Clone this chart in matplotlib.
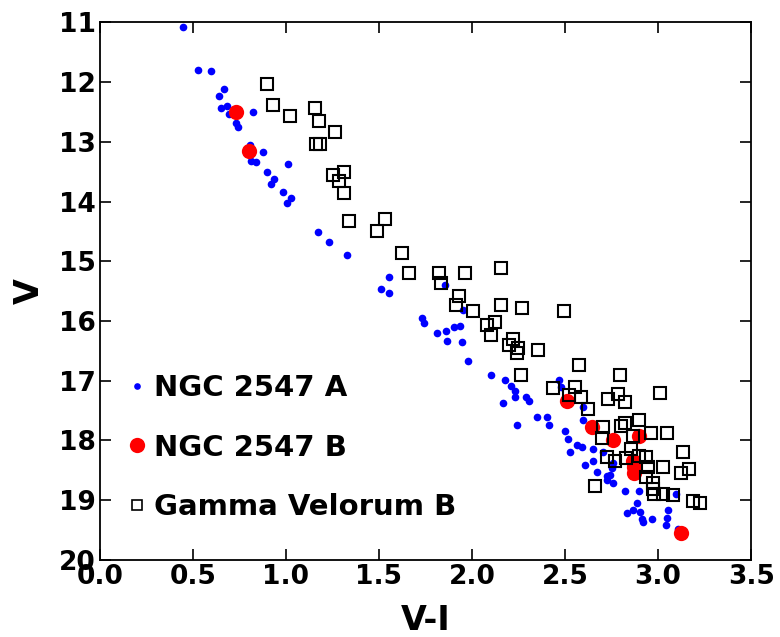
import matplotlib
matplotlib.use("Agg")
import matplotlib.pyplot as plt

# NGC 2547 A (blue dots)
a_vi = [0.448, 0.528, 0.595, 0.667, 0.642, 0.649, 0.686, 0.695, 0.731, 0.742, 0.824,
        0.806, 0.815, 0.839, 0.875, 1.013, 0.899, 0.935, 0.919, 0.986, 1.029, 1.007,
        1.172, 1.233, 1.326,
        1.552, 1.509, 1.556, 1.855, 1.953, 1.731, 1.742, 1.814, 1.860, 1.903, 1.935,
        1.867, 1.944, 1.980, 2.104, 2.176, 2.466,
        2.208, 2.229, 2.229, 2.168, 2.290, 2.308, 2.477, 2.351, 2.402, 2.413, 2.244,
        2.598, 2.598, 2.502, 2.516, 2.563, 2.527, 2.591, 2.649, 2.702, 2.652, 2.606,
        2.670, 2.760, 2.751, 2.727, 2.760, 2.742, 2.724, 2.823, 2.899, 2.885, 2.831,
        2.867, 2.903, 2.912, 2.966, 3.055, 3.047, 3.043, 3.097, 3.109, 2.918]
a_v = [11.08, 11.80, 11.82, 12.12, 12.24, 12.43, 12.40, 12.53, 12.68, 12.75, 12.51,
       13.06, 13.32, 13.34, 13.17, 13.38, 13.50, 13.63, 13.71, 13.84, 13.94, 14.03,
       14.51, 14.67, 14.90,
       15.27, 15.46, 15.53, 15.39, 15.82, 15.95, 16.03, 16.20, 16.16, 16.10, 16.08,
       16.33, 16.35, 16.67, 16.90, 16.99, 16.99,
       17.09, 17.18, 17.27, 17.37, 17.27, 17.34, 17.10, 17.61, 17.60, 17.74, 17.74,
       17.44, 17.66, 17.85, 17.98, 18.07, 18.19, 18.11, 18.14, 18.20, 18.34, 18.41,
       18.52, 18.38, 18.46, 18.60, 18.71, 18.58, 18.66, 18.85, 18.84, 19.04, 19.21,
       19.17, 19.19, 19.31, 19.31, 19.16, 19.30, 19.41, 18.89, 19.49, 19.36]

# NGC 2547 B (red circles)
b_vi = [0.731, 0.803, 2.512, 2.645, 2.756, 2.896, 2.863, 2.868, 2.872, 3.125]
b_v = [12.51, 13.16, 17.34, 17.78, 17.99, 17.92, 18.35, 18.45, 18.55, 19.55]

# Gamma Velorum B (open squares)
g_vi = [0.899, 0.932, 1.022, 1.154, 1.179, 1.265, 1.161, 1.183, 1.251, 1.312, 1.283,
        1.312, 1.340, 1.487, 1.534, 1.624, 1.663, 1.824, 1.835, 1.964, 2.154, 1.932,
        1.914, 2.004, 2.154, 2.270, 2.495, 2.082, 2.122, 2.104, 2.222, 2.201, 2.247,
        2.244, 2.355, 2.577, 2.262,
        2.796, 2.437, 2.554, 2.523, 2.584, 2.733, 2.785, 2.824, 3.012, 2.624, 2.706,
        2.699, 2.803, 2.824, 2.896, 2.964, 3.047, 2.867, 2.855, 2.724, 2.767, 2.826,
        2.899, 2.935, 2.946, 3.025, 3.136, 3.125, 3.165, 2.935, 2.975, 2.663, 2.975,
        2.978, 3.029, 3.079, 3.186, 3.226]
g_v = [12.03, 12.38, 12.57, 12.43, 12.65, 12.84, 13.03, 13.03, 13.55, 13.51, 13.65,
       13.85, 14.32, 14.50, 14.30, 14.87, 15.20, 15.20, 15.37, 15.20, 15.12, 15.58,
       15.74, 15.84, 15.73, 15.79, 15.83, 16.07, 16.01, 16.23, 16.31, 16.40, 16.45,
       16.54, 16.49, 16.74, 16.90,
       16.91, 17.13, 17.10, 17.24, 17.28, 17.31, 17.23, 17.35, 17.20, 17.48, 17.77,
       17.96, 17.75, 17.71, 17.65, 17.87, 17.87, 17.93, 18.15, 18.27, 18.35, 18.29,
       18.26, 18.27, 18.44, 18.45, 18.20, 18.54, 18.48, 18.61, 18.71, 18.77, 18.81,
       18.90, 18.90, 18.91, 19.01, 19.05]

x_ticks = [0.0, 0.5, 1.0, 1.5, 2.0, 2.5, 3.0, 3.5]
y_ticks = [11, 12, 13, 14, 15, 16, 17, 18, 19, 20]

plt.rcParams['font.family'] = ['DejaVu Sans']
plt.rcParams['font.weight'] = 'bold'

fig = plt.figure(figsize=(7.8, 6.37), dpi=100)
ax = fig.add_axes([0.128, 0.121, 0.835, 0.844])

ax.plot(a_vi, a_v, 'o', color='blue', markersize=5.5, markeredgewidth=0,
        label='NGC 2547 A', zorder=3)
ax.plot(b_vi, b_v, 'o', color='red', markersize=11, markeredgewidth=0,
        label='NGC 2547 B', zorder=4)
ax.plot(g_vi, g_v, 's', markerfacecolor='none', markeredgecolor='black',
        markersize=8, markeredgewidth=1.5, label='Gamma Velorum B', zorder=5)

ax.set_xlim(0.0, 3.5)
ax.set_ylim(20, 11)
ax.set_xticks(x_ticks)
ax.set_yticks(y_ticks)
ax.set_xticklabels([f"{t:.1f}" for t in x_ticks])
ax.set_yticklabels([str(t) for t in y_ticks])
ax.tick_params(direction='in', length=8, width=1.2, top=True, right=True,
               labelsize=19, pad=3)
for lab in ax.get_xticklabels() + ax.get_yticklabels():
    lab.set_fontweight('bold')
for s in ax.spines.values():
    s.set_linewidth(1.3)

ax.set_xlabel('V-I', fontsize=24, fontweight='bold', labelpad=10)
ax.set_ylabel('V', fontsize=24, fontweight='bold', labelpad=9)

leg = ax.legend(loc='lower left', bbox_to_anchor=(0.025, 0.05), frameon=False,
                prop={'size': 21, 'weight': 'bold'}, handlelength=0.6,
                handletextpad=0.3, labelspacing=1.09, numpoints=1,
                borderaxespad=0.0)
handles = leg.legend_handles
handles[0].set_markersize(4.8)
handles[2].set_markersize(6.5)
handles[2].set_markeredgewidth(1.2)

fig.savefig('out.png', dpi=100)
